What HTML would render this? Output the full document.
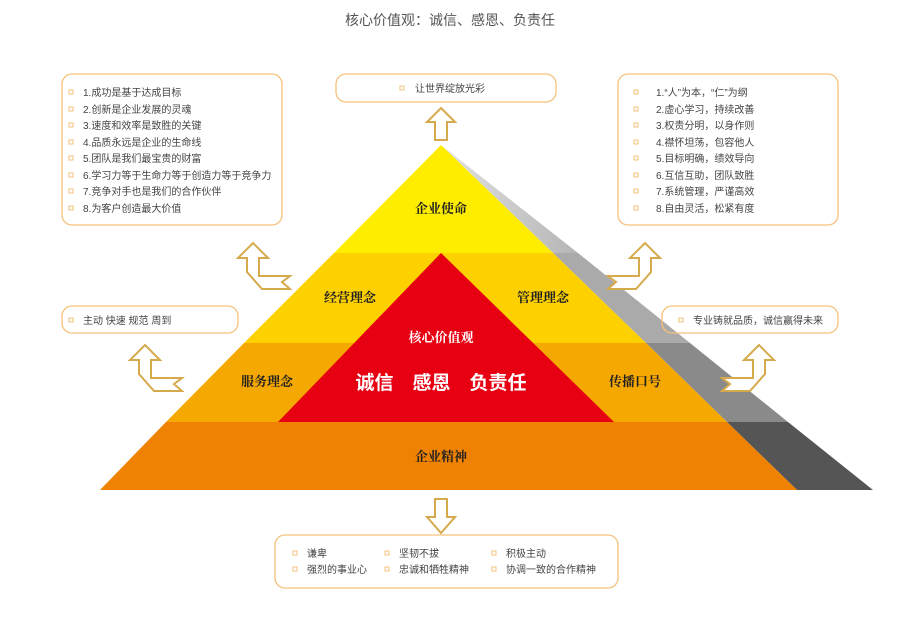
<!DOCTYPE html>
<html><head><meta charset="utf-8"><style>
body{margin:0;background:#fff;}
svg text{font-family:"Liberation Sans","Noto Sans CJK SC",sans-serif;}
.s{font-family:"Liberation Serif","Noto Serif CJK SC",serif;font-weight:bold;}
</style></head><body>
<svg width="900" height="619" viewBox="0 0 900 619" xmlns="http://www.w3.org/2000/svg">
<defs><linearGradient id="g1" x1="0" y1="0" x2="1" y2="0"><stop offset="0" stop-color="#e2e2e2"/><stop offset="1" stop-color="#b5b5b5"/></linearGradient></defs>
<text x="450" y="25" font-size="14" fill="#555" text-anchor="middle">核心价值观：诚信、感恩、负责任</text>
<polygon points="441,145 553,253 578,253" fill="url(#g1)"/>
<polygon points="553,253 578,253 690,343 646,343" fill="#aaa"/>
<polygon points="646,343 690,343 788,422 727,422" fill="#8a8a8a"/>
<polygon points="727,422 788,422 873,490 797,490" fill="#555"/>
<polygon points="441,145 553,253 334,253" fill="#ffed00"/>
<polygon points="334,253 553,253 646,343 244,343" fill="#fdd000"/>
<polygon points="244,343 646,343 727,422 166,422" fill="#f5a800"/>
<polygon points="166,422 727,422 797,490 100,490" fill="#ef8200"/>
<polygon points="441,253 614,422 278,422" fill="#e60012"/>
<text class="s" x="441" y="213" font-size="13" text-anchor="middle" fill="#222">企业使命</text>
<text class="s" x="350" y="302" font-size="13" text-anchor="middle" fill="#222">经营理念</text>
<text class="s" x="543" y="302" font-size="13" text-anchor="middle" fill="#222">管理理念</text>
<text class="s" x="441" y="342" font-size="13" text-anchor="middle" fill="#fff">核心价值观</text>
<text x="441" y="389" font-size="19" font-weight="bold" text-anchor="middle" fill="#fff">诚信　感恩　负责任</text>
<text class="s" x="267" y="386" font-size="13" text-anchor="middle" fill="#222">服务理念</text>
<text class="s" x="635" y="386" font-size="13" text-anchor="middle" fill="#222">传播口号</text>
<text class="s" x="441" y="461" font-size="13" text-anchor="middle" fill="#222">企业精神</text>
<g fill="none" stroke="#f5c07a" stroke-width="1.3">
<rect x="62" y="74" width="220" height="151" rx="10"/>
<rect x="336" y="74" width="220" height="28" rx="10"/>
<rect x="618" y="74" width="220" height="151" rx="10"/>
<rect x="62" y="306" width="176" height="27" rx="10"/>
<rect x="662" y="306" width="176" height="27" rx="10"/>
<rect x="275" y="535" width="343" height="53" rx="10"/>
</g>
<g fill="none" stroke="#f5c07a" stroke-width="1">
<rect x="69" y="90" width="4" height="4"/><rect x="69" y="107" width="4" height="4"/><rect x="69" y="123" width="4" height="4"/><rect x="69" y="140" width="4" height="4"/><rect x="69" y="156" width="4" height="4"/><rect x="69" y="173" width="4" height="4"/><rect x="69" y="189" width="4" height="4"/><rect x="69" y="206" width="4" height="4"/>
<rect x="634" y="90" width="4" height="4"/><rect x="634" y="107" width="4" height="4"/><rect x="634" y="123" width="4" height="4"/><rect x="634" y="140" width="4" height="4"/><rect x="634" y="156" width="4" height="4"/><rect x="634" y="173" width="4" height="4"/><rect x="634" y="189" width="4" height="4"/><rect x="634" y="206" width="4" height="4"/>
<rect x="400" y="86" width="4" height="4"/><rect x="69" y="318" width="4" height="4"/><rect x="679" y="318" width="4" height="4"/>
<rect x="293" y="551" width="4" height="4"/><rect x="385" y="551" width="4" height="4"/><rect x="492" y="551" width="4" height="4"/>
<rect x="293" y="567" width="4" height="4"/><rect x="385" y="567" width="4" height="4"/><rect x="492" y="567" width="4" height="4"/>
</g>
<g font-size="10" fill="#444">
<text x="83" y="96">1.成功是基于达成目标</text><text x="83" y="113">2.创新是企业发展的灵魂</text><text x="83" y="129">3.速度和效率是致胜的关键</text><text x="83" y="146">4.品质永远是企业的生命线</text><text x="83" y="162">5.团队是我们最宝贵的财富</text><text x="83" y="179">6.学习力等于生命力等于创造力等于竞争力</text><text x="83" y="195">7.竞争对手也是我们的合作伙伴</text><text x="83" y="212">8.为客户创造最大价值</text>
<text x="656" y="96">1.“人”为本，“仁”为纲</text><text x="656" y="113">2.虚心学习，持续改善</text><text x="656" y="129">3.权责分明，以身作则</text><text x="656" y="146">4.襟怀坦荡，包容他人</text><text x="656" y="162">5.目标明确，绩效导向</text><text x="656" y="179">6.互信互助，团队致胜</text><text x="656" y="195">7.系统管理，严谨高效</text><text x="656" y="212">8.自由灵活，松紧有度</text>
<text x="415" y="92">让世界绽放光彩</text>
<text x="83" y="324">主动  快速  规范  周到</text>
<text x="693" y="324">专业铸就品质，诚信赢得未来</text>
<text x="307" y="557">谦卑</text><text x="399" y="557">坚韧不拔</text><text x="506" y="557">积极主动</text>
<text x="307" y="573">强烈的事业心</text><text x="399" y="573">忠诚和牺牲精神</text><text x="506" y="573">协调一致的合作精神</text>
</g>
<g fill="#fff" stroke="#d6aa4c" stroke-width="2" stroke-linejoin="miter">
<polygon points="441,108 455,122 447,122 447,140 435,140 435,122 427,122"/>
<polygon points="441,533 455,517 447,517 447,499 435,499 435,517 427,517"/>
<polygon points="253,243 268,258 259,258 259,276 290,276 282,282 290,289 262,289 247,272 247,258 238,258"/>
<polygon points="145,345 160,360 151,360 151,378 182,378 174,384 182,391 154,391 139,374 139,360 130,360"/>
<polygon points="645,243 630,258 639,258 639,276 608,276 616,282 608,289 636,289 651,272 651,258 660,258"/>
<polygon points="759,345 744,360 753,360 753,378 722,378 730,384 722,391 750,391 765,374 765,360 774,360"/>
</g>
</svg>
</body></html>
